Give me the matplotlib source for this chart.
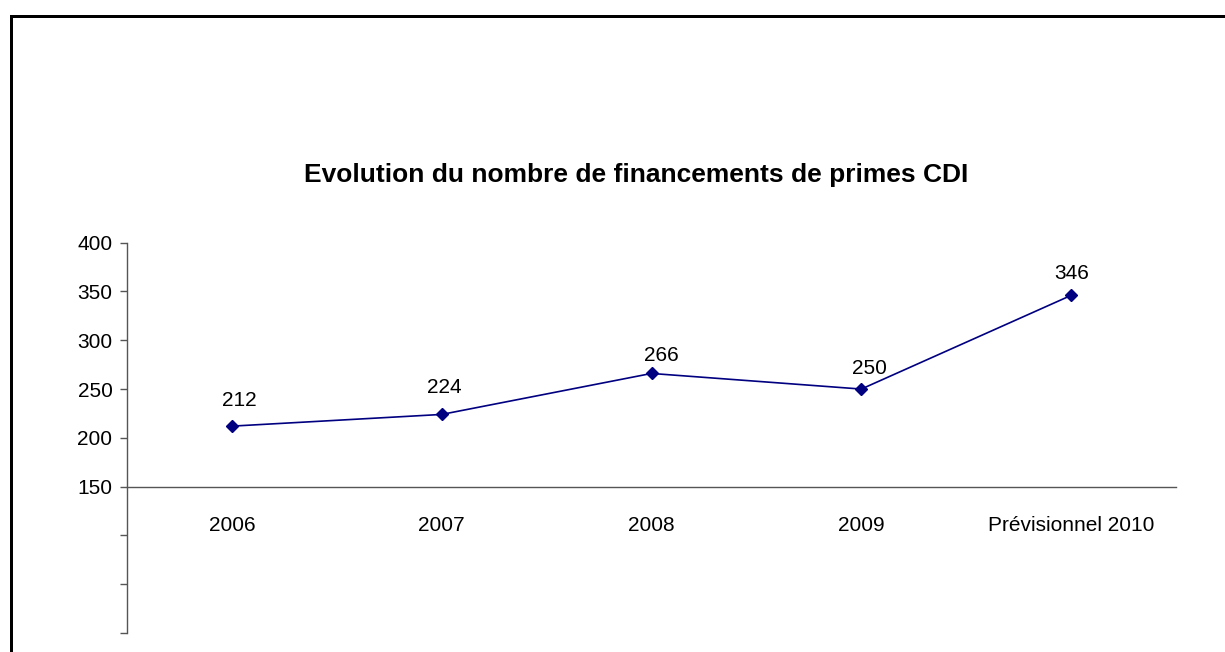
import matplotlib
matplotlib.use("Agg")
import matplotlib.pyplot as plt
from matplotlib.patches import Rectangle
from matplotlib.ticker import FuncFormatter, MultipleLocator

plt.rcParams['font.family'] = ['Liberation Sans', 'DejaVu Sans']

# ---- data ----
categories = ["2006", "2007", "2008", "2009", "Prévisionnel 2010"]
values = [212, 224, 266, 250, 346]
title = "Evolution du nombre de financements de primes CDI"

# label offsets (pixels) relative to each marker: style only
label_dx = [7, 3, 10, 8, 1]
label_dy = [20, 21, 12, 15, 16]

W, H = 1225, 652
fig = plt.figure(figsize=(W / 100, H / 100), dpi=100)

# axes geometry in pixels
ax_l, ax_r = 127, 1176
ax_top, ax_bot = 242.7, 633
ax = fig.add_axes([ax_l / W, (H - ax_bot) / H, (ax_r - ax_l) / W, (ax_bot - ax_top) / H])

axis_color = '#555555'
x = list(range(len(categories)))
ax.plot(x, values, color='#000080', lw=1.2, marker='D', ms=6.5,
        markerfacecolor='#000080', markeredgecolor='#000080', clip_on=False)

px = 72 / 100  # pixels -> points
for xi, v, dx, dy in zip(x, values, label_dx, label_dy):
    ax.annotate(str(v), (xi, v), xytext=(dx * px, dy * px), textcoords='offset points',
                ha='center', va='baseline', fontsize=15, color='black')

ax.set_xlim(-0.5, len(categories) - 0.5)
ax.set_ylim(0, 400)

for s in ['top', 'right']:
    ax.spines[s].set_visible(False)
ax.spines['left'].set_color(axis_color)
ax.spines['left'].set_linewidth(1.0)
ax.spines['bottom'].set_position(('data', 150))
ax.spines['bottom'].set_color(axis_color)
ax.spines['bottom'].set_linewidth(1.0)

ax.yaxis.set_major_locator(MultipleLocator(50))
ax.yaxis.set_major_formatter(FuncFormatter(lambda v, p: f"{int(v)}" if v >= 150 else ""))
ax.tick_params(axis='y', direction='out', length=5, width=1.0, color=axis_color,
               labelsize=15, labelcolor='black', pad=5.5)

ax.set_xticks(x)
ax.set_xticklabels(categories)
ax.tick_params(axis='x', length=0, labelsize=15, labelcolor='black', pad=21)

fig.text(636 / W, (H - 182) / H, title, ha='center', va='baseline',
         fontsize=19, fontweight='bold', color='black')

# outer frame (top and left visible)
fig.patches.append(Rectangle((10.5 / W, -0.2), 2.0, 1.2 - 15.5 / H,
                             transform=fig.transFigure, fill=False,
                             edgecolor='black', linewidth=3 * px, clip_on=False))

fig.savefig("out.png", dpi=100, facecolor='white')
